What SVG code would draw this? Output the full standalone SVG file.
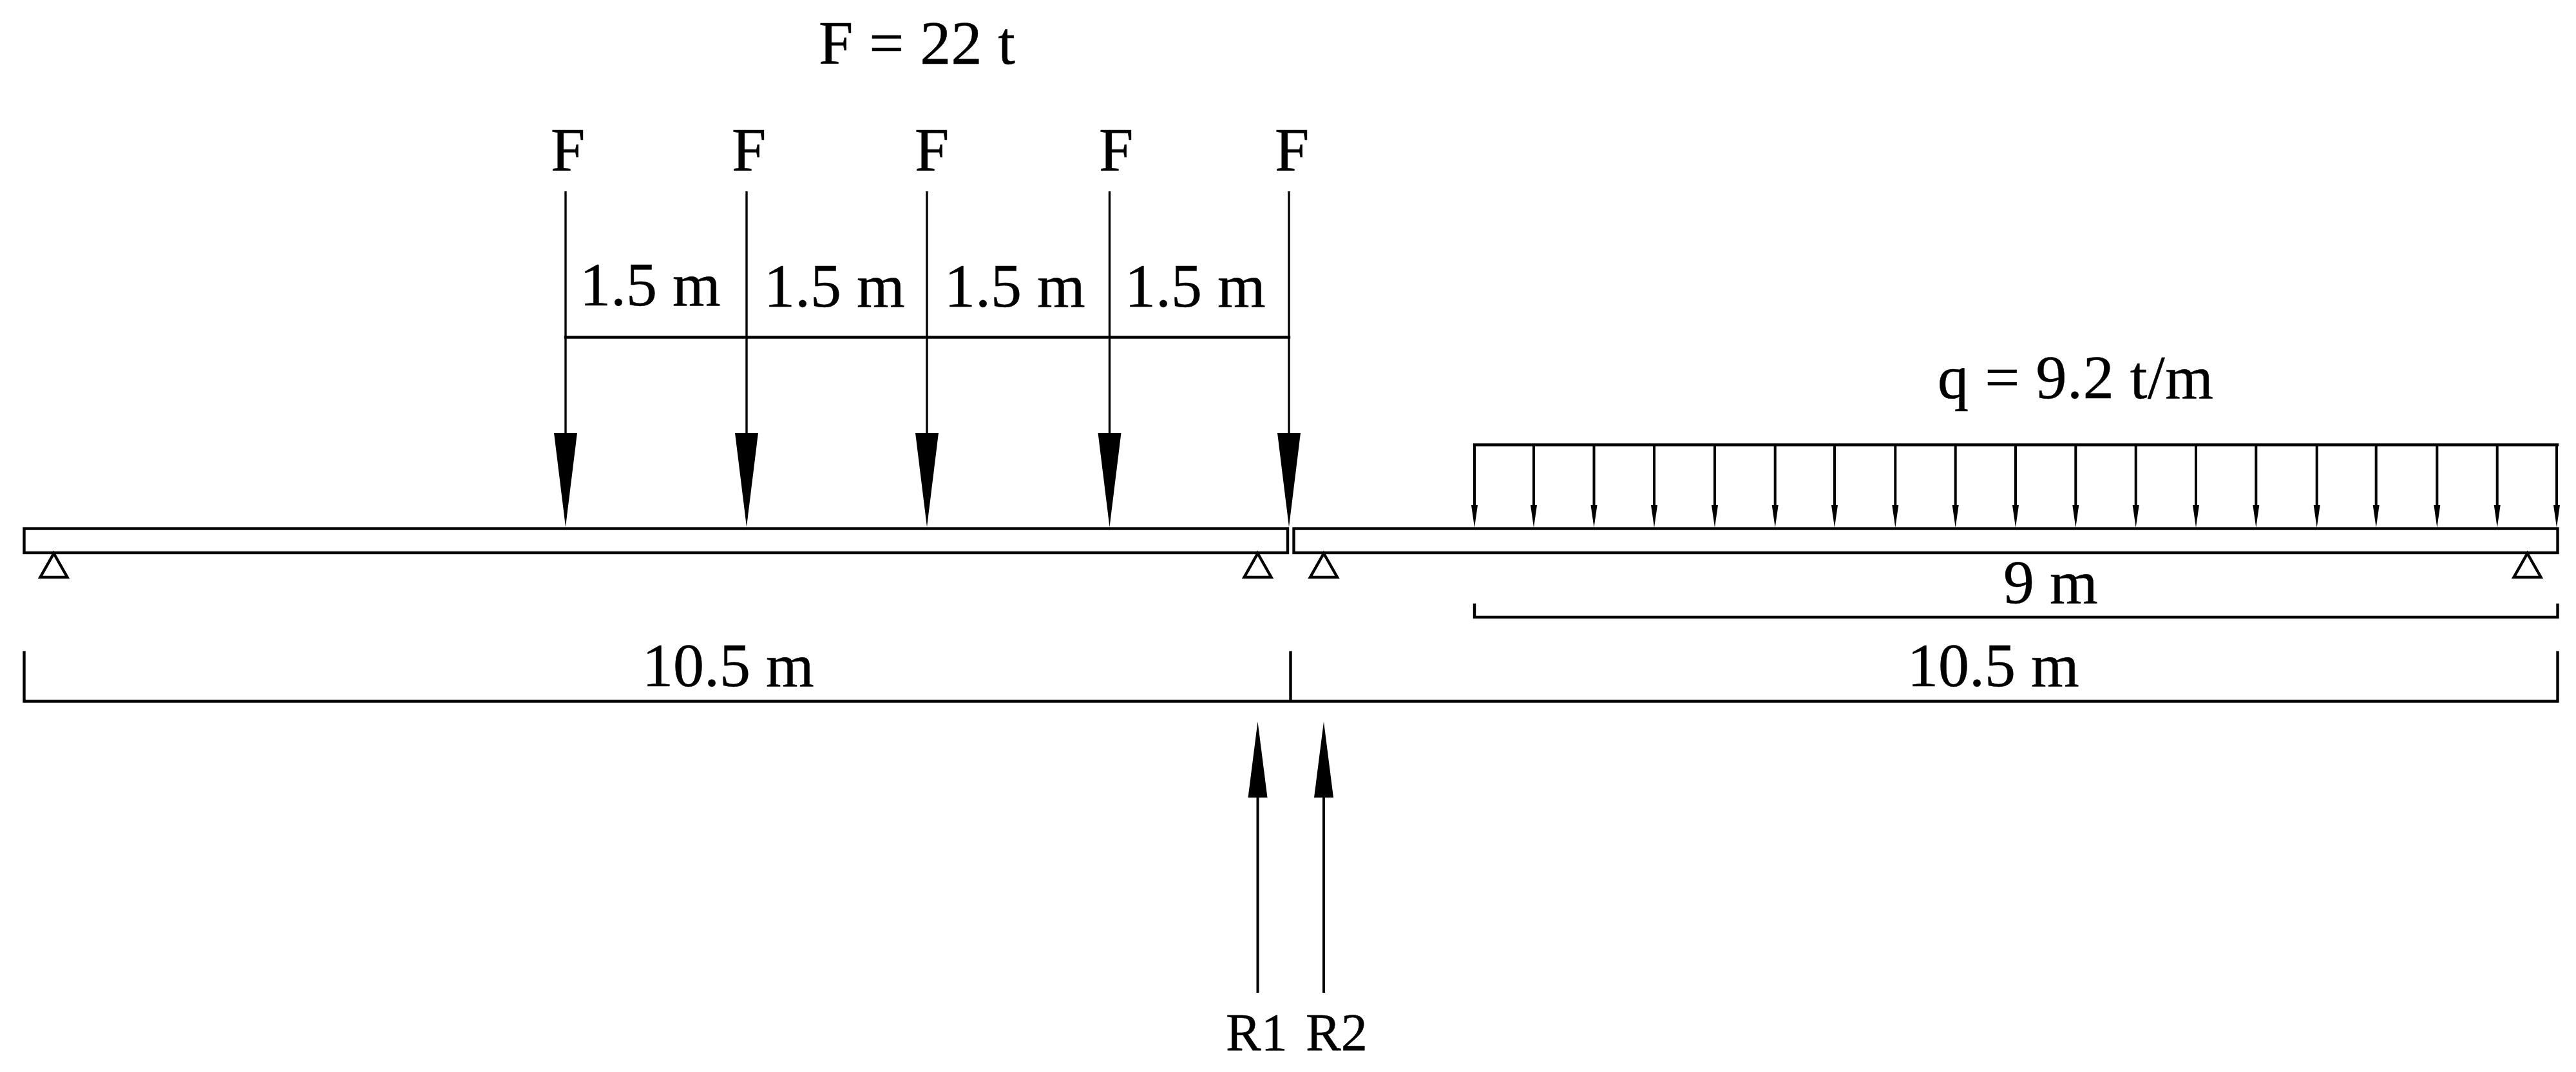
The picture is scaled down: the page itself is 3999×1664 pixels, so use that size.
<svg xmlns="http://www.w3.org/2000/svg" width="3999" height="1664" viewBox="0 0 3999 1664">
<defs>
<style>
.l{fill:none;stroke:#000;stroke-width:4.400;stroke-linecap:square;stroke-linejoin:miter}
.n{fill:none;stroke:#000;stroke-width:3.400}
.m{fill:none;stroke:#000;stroke-width:4}
.h{fill:#000;stroke:none}
text{font-family:"Liberation Serif","Times New Roman",serif;fill:#000;stroke:#000;stroke-width:.5}
.b{font-size:96px}
.s{font-size:82px}
</style>
<polygon id="bigHead" class="h" points="-18,0 18,0 0,146"/>
<polygon id="smallHead" class="h" points="-5,0 5,0 0,35"/>
<polygon id="upHead" class="h" points="-15,118 15,118 0,0"/>
<polygon id="support" class="l" points="0,1 21,38 -21,38"/>
</defs>
<rect width="3999" height="1664" fill="#fff"/>
<g id="beam-left"><rect class="l" x="37.500" y="820.500" width="1961.500" height="37.500"/></g>
<g id="beam-right"><rect class="l" x="2008.500" y="820.500" width="1962" height="37.500"/></g>
<g id="support-1"><use href="#support" x="83.500" y="858"/></g>
<g id="support-2"><use href="#support" x="1952.500" y="858"/></g>
<g id="support-3"><use href="#support" x="2055" y="858"/></g>
<g id="support-4"><use href="#support" x="3923.500" y="858"/></g>
<g id="connectors">
<g id="point-loads">
<path class="n" d="M878 297V672M1159 297V672M1439 297V672M1722.500 297V672M2001 297V672"/>
<path class="l" d="M878 523.500H2001"/>
<use href="#bigHead" x="878" y="672"/><use href="#bigHead" x="1159" y="672"/><use href="#bigHead" x="1439" y="672"/><use href="#bigHead" x="1722.500" y="672"/><use href="#bigHead" x="2001" y="672"/>
</g>
<g id="distributed-load">
<path class="l" d="M2289 690.500H3970"/>
<path class="m" d="M2289 690V785M2381 690V785M2474.500 690V785M2568 690V785M2662 690V785M2755.700 690V785M2848 690V785M2942.300 690V785M3035.700 690V785M3129 690V785M3222.300 690V785M3315.700 690V785M3409 690V785M3502.300 690V785M3596.700 690V785M3688.700 690V785M3783.300 690V785M3876.700 690V785M3969 690V785"/>
<use href="#smallHead" x="2289" y="784"/><use href="#smallHead" x="2381" y="784"/><use href="#smallHead" x="2474.500" y="784"/><use href="#smallHead" x="2568" y="784"/><use href="#smallHead" x="2662" y="784"/><use href="#smallHead" x="2755.700" y="784"/><use href="#smallHead" x="2848" y="784"/><use href="#smallHead" x="2942.300" y="784"/><use href="#smallHead" x="3035.700" y="784"/><use href="#smallHead" x="3129" y="784"/><use href="#smallHead" x="3222.300" y="784"/><use href="#smallHead" x="3315.700" y="784"/><use href="#smallHead" x="3409" y="784"/><use href="#smallHead" x="3502.300" y="784"/><use href="#smallHead" x="3596.700" y="784"/><use href="#smallHead" x="3688.700" y="784"/><use href="#smallHead" x="3783.300" y="784"/><use href="#smallHead" x="3876.700" y="784"/><use href="#smallHead" x="3969" y="784"/>
</g>
<g id="dimensions">
<path class="l" d="M2289 939V958H3970.500V939"/>
<path class="l" d="M37.500 1013V1088.500H3970.500V1013M2003.500 1013V1088.500"/>
</g>
<g id="reactions">
<path class="m" d="M1952.500 1238V1541M2055 1238V1541"/>
<use href="#upHead" x="1952.500" y="1120"/><use href="#upHead" x="2055" y="1120"/>
</g>
</g>
<g id="labels">
<text class="b" x="1271" y="99" textLength="305">F = 22 t</text>
<text class="b" x="855" y="265">F</text><text class="b" x="1136" y="265">F</text><text class="b" x="1420" y="265">F</text><text class="b" x="1706" y="265">F</text><text class="b" x="1979" y="265">F</text>
<text class="b" x="900" y="474">1.5 m</text><text class="b" x="1186" y="476">1.5 m</text><text class="b" x="1466" y="476">1.5 m</text><text class="b" x="1746" y="476">1.5 m</text>
<text class="b" x="3008" y="618" textLength="428">q = 9.2 t/m</text>
<text class="b" x="3110" y="936">9 m</text>
<text class="b" x="997" y="1065">10.5 m</text>
<text class="b" x="2961" y="1065">10.5 m</text>
<text class="s" x="1903" y="1629.500">R1</text>
<text class="s" x="2027" y="1629.500">R2</text>
</g>
</svg>
